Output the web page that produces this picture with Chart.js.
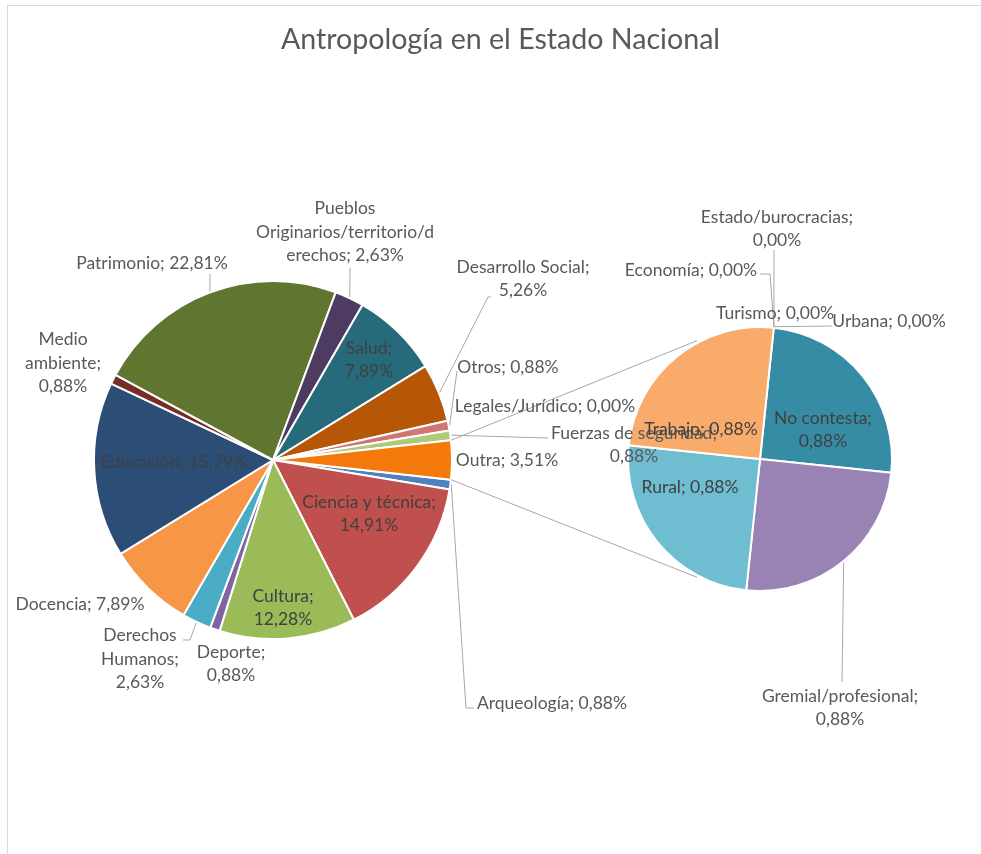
<!DOCTYPE html>
<html>
<head>
<meta charset="utf-8">
<script src="https://cdn.jsdelivr.net/npm/chart.js@4.4.1/dist/chart.umd.min.js"></script>
<style>
    body { margin: 0; background: #fff; }
    #wrap { position: relative; width: 981px; height: 854px; overflow: hidden; }
    #frame { position: absolute; left: 7px; top: 5px; width: 1000px; height: 900px; border: 1px solid #d9d9d9; }
    canvas { position: absolute; left: 0; top: 0; }
</style>
</head>
<body>
<div id="wrap">
    <div id="frame"></div>
    <canvas id="mainPie" width="981" height="854"></canvas>
    <canvas id="subPie" width="981" height="854"></canvas>
</div>
<script>
// Chart data
const chartTitle = 'Antropología en el Estado Nacional';

// Main pie, clockwise (the last slice "Outra" is expanded in the second pie)
const mainLabels = [
    'Arqueología', 'Ciencia y técnica', 'Cultura', 'Deporte', 'Derechos Humanos',
    'Docencia', 'Educación', 'Medio ambiente', 'Patrimonio',
    'Pueblos Originarios/territorio/derechos', 'Salud', 'Desarrollo Social',
    'Otros', 'Legales/Jurídico', 'Fuerzas de seguridad', 'Outra'
];
const mainValues = [0.88, 14.91, 12.28, 0.88, 2.63, 7.89, 15.79, 0.88, 22.81, 2.63, 7.89, 5.26, 0.88, 0.00, 0.88, 3.51];
const mainColors = [
    '#4f81bd', '#c0504d', '#9bbb59', '#8064a2', '#4bacc6', '#f79646', '#2c4d75', '#772c2a',
    '#5f7530', '#4d3b62', '#276a7c', '#b65708', '#d07572', '#729aca', '#afc97a', '#f3790b'
];

// Second pie (breakdown of "Outra")
const subLabels = ['No contesta', 'Gremial/profesional', 'Rural', 'Trabajo', 'Turismo', 'Urbana', 'Estado/burocracias', 'Economía'];
const subValues = [0.88, 0.88, 0.88, 0.88, 0.00, 0.00, 0.00, 0.00];
const subColors = ['#378ca5', '#9983b5', '#6fbdd1', '#f9ab6b', '#7f9fcf', '#cf7f7c', '#b7cf8a', '#a18fbd'];

// Label placement: offset of the text block centre from the pie centre, wrap width,
// and the leader line bend points (the line ends on the slice edge)
const labelLayout = [
    { pie: 'main', i: 0, dx: 279, dy: 243, w: 300, leader: [[201, 248], [193, 248]] },
    { pie: 'main', i: 1, dx: 96, dy: 54, w: 150, inside: true },
    { pie: 'main', i: 2, dx: 10, dy: 148, w: 80, inside: true },
    { pie: 'main', i: 3, dx: -42, dy: 204, w: 80 },
    { pie: 'main', i: 4, dx: -133, dy: 199, w: 90, leader: [[-90, 180], [-83, 180]] },
    { pie: 'main', i: 5, dx: -193, dy: 144, w: 300 },
    { pie: 'main', i: 6, dx: -99, dy: 2, w: 300, inside: true },
    { pie: 'main', i: 7, dx: -210, dy: -97, w: 90 },
    { pie: 'main', i: 8, dx: -121, dy: -197, w: 300, leader: [[-63, -186]] },
    { pie: 'main', i: 9, dx: 72, dy: -228, w: 186, leader: [[77, -192]] },
    { pie: 'main', i: 10, dx: 96, dy: -100, w: 60, inside: true },
    { pie: 'main', i: 11, dx: 250, dy: -181, w: 150, leader: [[218, -163], [215, -163]] },
    { pie: 'main', i: 12, dx: 235, dy: -93, w: 300, leader: [[184, -89]] },
    { pie: 'main', i: 13, dx: 272, dy: -54, w: 300 },
    { pie: 'main', i: 14, dx: 361, dy: -15, w: 180, leader: [[275, -22]] },
    { pie: 'main', i: 15, dx: 234, dy: 0, w: 300 },
    { pie: 'sub', i: 0, dx: 63, dy: -29, w: 110, inside: true },
    { pie: 'sub', i: 1, dx: 80, dy: 249, w: 170, leader: [[82, 223]] },
    { pie: 'sub', i: 2, dx: -70, dy: 28, w: 300, inside: true },
    { pie: 'sub', i: 3, dx: -59, dy: -30, w: 300, inside: true },
    { pie: 'sub', i: 4, dx: 15, dy: -146, w: 300 },
    { pie: 'sub', i: 5, dx: 129, dy: -138, w: 300, leader: [[72, -133]] },
    { pie: 'sub', i: 6, dx: 17, dy: -230, w: 160, leader: [[14, -209]] },
    { pie: 'sub', i: 7, dx: -69, dy: -189, w: 300, leader: [[0, -185], [10, -185]] }
];

const FONT = 'Lato, "Open Sans", sans-serif';
const LABEL_SIZE = 17.5;
const LINE_H = 23.5;
const SERIES_LINE_SPREAD = 28; // degrees from vertical where the series lines meet pie 2

function formatPct(v) {
    return v.toFixed(2).replace('.', ',') + '%';
}

// greedy word wrap, breaking over-long words by character like Excel
function wrapText(ctx, text, maxW) {
    const words = text.split(' ');
    const lines = [];
    let cur = '';
    words.forEach(word => {
        const test = cur ? cur + ' ' + word : word;
        if (ctx.measureText(test).width <= maxW) {
            cur = test;
            return;
        }
        if (cur) lines.push(cur);
        cur = '';
        let rest = word;
        while (ctx.measureText(rest).width > maxW) {
            let k = rest.length;
            while (k > 1 && ctx.measureText(rest.slice(0, k)).width > maxW) k--;
            lines.push(rest.slice(0, k));
            rest = rest.slice(k);
        }
        cur = rest;
    });
    if (cur) lines.push(cur);
    return lines;
}

let mainChart = null;

// title centred over the whole picture, not just the first pie
const titlePlugin = {
    id: 'pageTitle',
    afterDraw(chart) {
        const ctx = chart.ctx;
        ctx.save();
        ctx.font = `28.6px ${FONT}`;
        ctx.fillStyle = '#595959';
        ctx.textAlign = 'center';
        ctx.textBaseline = 'alphabetic';
        ctx.fillText(chartTitle, chart.width / 2 + 10, 49);
        ctx.restore();
    }
};

const pieLabelsPlugin = {
    id: 'pieLabels',
    afterDraw(chart) {
        if (!mainChart) return;
        const ctx = chart.ctx;
        const mainArcs = mainChart.getDatasetMeta(0).data;
        const subArcs = chart.getDatasetMeta(0).data;
        const sets = {
            main: { arcs: mainArcs, labels: mainLabels, values: mainValues },
            sub: { arcs: subArcs, labels: subLabels, values: subValues }
        };

        ctx.save();
        ctx.strokeStyle = '#a6a6a6';
        ctx.lineWidth = 1;

        // series lines from the "Outra" slice to the second pie
        const outra = mainArcs[mainArcs.length - 1];
        const sc = subArcs[0];
        const sr = sc.outerRadius + 2;
        const spread = SERIES_LINE_SPREAD * Math.PI / 180;
        const ends = [-Math.PI / 2 - spread, Math.PI / 2 + spread];
        [outra.startAngle, outra.endAngle].forEach((a, k) => {
            ctx.beginPath();
            ctx.moveTo(outra.x + outra.outerRadius * Math.cos(a), outra.y + outra.outerRadius * Math.sin(a));
            ctx.lineTo(sc.x + sr * Math.cos(ends[k]), sc.y + sr * Math.sin(ends[k]));
            ctx.stroke();
        });

        // leader lines
        labelLayout.forEach(l => {
            if (!l.leader) return;
            const arc = sets[l.pie].arcs[l.i];
            const mid = (arc.startAngle + arc.endAngle) / 2;
            ctx.beginPath();
            l.leader.forEach((p, k) => {
                const px = arc.x + p[0], py = arc.y + p[1];
                if (k === 0) ctx.moveTo(px, py); else ctx.lineTo(px, py);
            });
            ctx.lineTo(arc.x + (arc.outerRadius + 1) * Math.cos(mid), arc.y + (arc.outerRadius + 1) * Math.sin(mid));
            ctx.stroke();
        });

        // label text
        ctx.font = `${LABEL_SIZE}px ${FONT}`;
        ctx.textAlign = 'center';
        ctx.textBaseline = 'middle';
        labelLayout.forEach(l => {
            const set = sets[l.pie];
            const arc = set.arcs[l.i];
            const text = `${set.labels[l.i]}; ${formatPct(set.values[l.i])}`;
            const lines = wrapText(ctx, text, l.w);
            ctx.fillStyle = l.inside ? '#404040' : '#595959';
            const top = arc.y + l.dy - (lines.length - 1) * LINE_H / 2;
            lines.forEach((line, k) => {
                ctx.fillText(line, arc.x + l.dx, top + k * LINE_H);
            });
        });
        ctx.restore();
    }
};

mainChart = new Chart(document.getElementById('mainPie'), {
    type: 'pie',
    data: {
        labels: mainLabels,
        datasets: [{
            data: mainValues,
            backgroundColor: mainColors,
            borderColor: '#ffffff',
            borderWidth: 2
        }]
    },
    options: {
        responsive: false,
        animation: false,
        devicePixelRatio: 1,
        rotation: 96.3,
        layout: { padding: { left: 93, right: 528, top: 280, bottom: 214 } },
        plugins: {
            legend: { display: false },
            tooltip: { enabled: false },
            title: { display: false }
        }
    },
    plugins: [titlePlugin]
});

new Chart(document.getElementById('subPie'), {
    type: 'pie',
    data: {
        labels: subLabels,
        datasets: [{
            data: subValues,
            backgroundColor: subColors,
            borderColor: '#ffffff',
            borderWidth: 2
        }]
    },
    options: {
        responsive: false,
        animation: false,
        devicePixelRatio: 1,
        rotation: 6,
        layout: { padding: { left: 627, right: 88, top: 326, bottom: 262 } },
        plugins: {
            legend: { display: false },
            tooltip: { enabled: false }
        }
    },
    plugins: [pieLabelsPlugin]
});
</script>
</body>
</html>
